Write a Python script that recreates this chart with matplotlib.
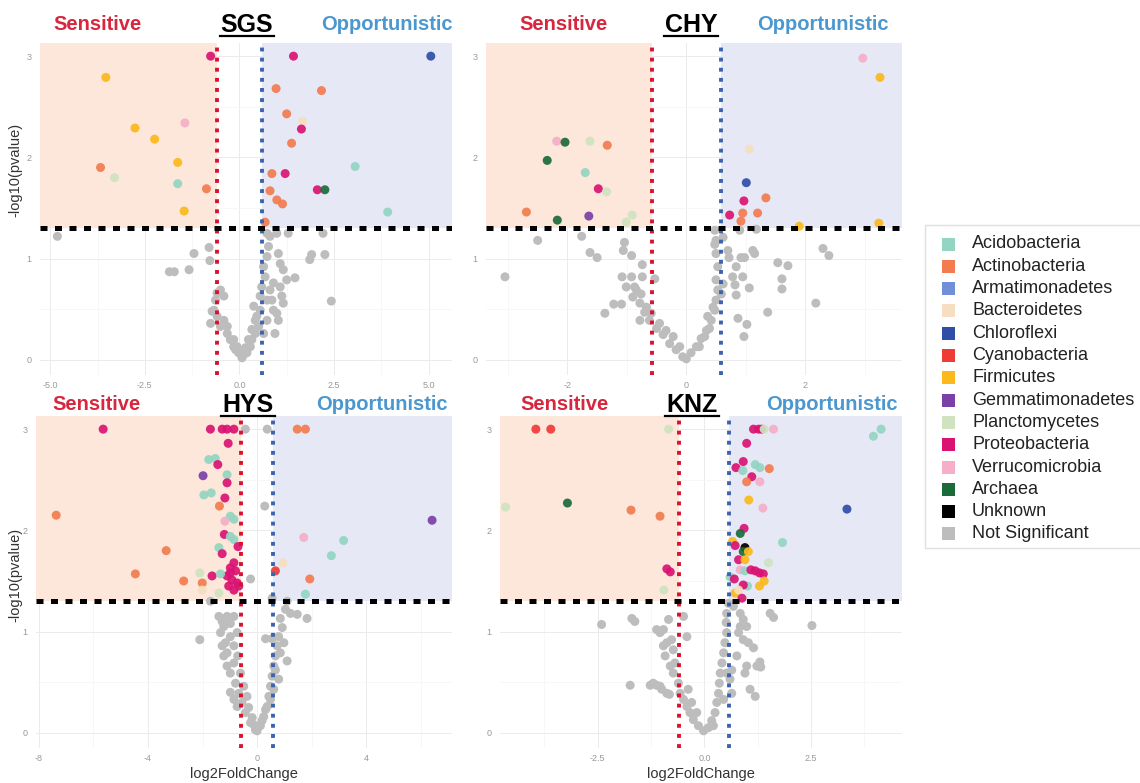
import matplotlib
matplotlib.use("Agg")
import matplotlib.pyplot as plt
from matplotlib.patches import Rectangle
from matplotlib.lines import Line2D

plt.rcParams['font.family'] = ['Liberation Sans', 'DejaVu Sans']

# ---------------- categories / colours ----------------
PHYLA = ["Acidobacteria", "Actinobacteria", "Armatimonadetes", "Bacteroidetes",
         "Chloroflexi", "Cyanobacteria", "Firmicutes", "Gemmatimonadetes",
         "Planctomycetes", "Proteobacteria", "Verrucomicrobia", "Archaea",
         "Unknown", "Not Significant"]
PHYLA_COLORS = ["#93d5c2", "#f27c4f", "#6f8fd6", "#f5dfc0", "#2f4ea8", "#ef3b36",
                "#fbb91b", "#7b3fa8", "#cfe3c0", "#da1373", "#f5afc8", "#1b6b3a",
                "#000000", "#bdbdbd"]
COLOR = dict(zip(PHYLA, PHYLA_COLORS))

FC_CUT = 0.585      # log2(1.5)
P_CUT = 1.301       # -log10(0.05)

# ---------------- SGS ----------------
SGS_phylum = ["Proteobacteria", "Firmicutes", "Verrucomicrobia", "Firmicutes", "Firmicutes",
              "Firmicutes", "Actinobacteria", "Planctomycetes", "Acidobacteria", "Actinobacteria",
              "Firmicutes", "Proteobacteria", "Chloroflexi", "Actinobacteria", "Actinobacteria",
              "Actinobacteria", "Bacteroidetes", "Proteobacteria", "Actinobacteria", "Acidobacteria",
              "Actinobacteria", "Proteobacteria", "Actinobacteria", "Proteobacteria", "Archaea",
              "Actinobacteria", "Actinobacteria", "Acidobacteria", "Actinobacteria"]
SGS_lfc = [-0.76, -3.53, -1.44, -2.76, -2.24, -1.63, -3.67, -3.30, -1.63, -0.87,
           -1.46, 1.43, 5.06, 0.97, 2.17, 1.25, 1.67, 1.64, 1.38, 3.06,
           0.86, 1.21, 0.81, 2.06, 2.26, 0.99, 1.14, 3.92, 0.68]
SGS_p = [3.00, 2.79, 2.34, 2.29, 2.18, 1.95, 1.90, 1.80, 1.74, 1.69,
         1.47, 3.00, 3.00, 2.68, 2.66, 2.43, 2.36, 2.28, 2.14, 1.91,
         1.84, 1.84, 1.67, 1.68, 1.68, 1.58, 1.54, 1.46, 1.36]
SGS_ns_lfc = [-4.81, -0.80, -1.20, -0.78, -1.85, -1.72, -1.33, -0.50, -0.41, -0.67, -0.59, -0.76,
              -0.50, -0.32, -0.24, -0.15, -0.02, 0.07, 0.20, 0.29, 0.33, 0.42, 0.51, 0.46, 0.38,
              0.55, 0.59, 0.68, 0.64, 0.73, 0.77, 0.81, 0.99, 1.03, 1.08, 1.16, 1.25, 1.08, 1.12,
              1.16, 0.99, 1.03, 0.94, 1.47, 1.86, 1.91, 1.29, 2.21, 2.26, 2.43, -0.10, 0.11, -0.15,
              -0.06, 0.16, 0.24, 0.33, 0.42, 0.55, 0.73, 0.81, 0.90, 0.86, 0.90, 0.73, 0.64, -0.41,
              -0.63, -0.59, -0.72, -0.32, 0.73]
SGS_ns_p = [1.22, 1.11, 1.05, 0.98, 0.87, 0.87, 0.89, 0.69, 0.63, 0.49, 0.43, 0.36,
            0.33, 0.26, 0.20, 0.13, 0.07, 0.02, 0.07, 0.13, 0.20, 0.26, 0.33, 0.43, 0.53,
            0.63, 0.72, 0.82, 0.92, 1.02, 1.12, 1.22, 1.25, 1.05, 0.95, 0.89, 0.79, 0.72, 0.63,
            0.56, 0.46, 0.39, 0.26, 0.81, 0.99, 1.04, 1.25, 1.25, 1.04, 0.58, 0.10, 0.05, 0.20,
            0.13, 0.12, 0.20, 0.30, 0.39, 0.49, 0.59, 0.69, 0.76, 0.59, 0.49, 0.39, 0.26, 0.39,
            0.59, 0.66, 0.48, 0.33, 1.25]

# ---------------- CHY ----------------
CHY_phylum = ["Verrucomicrobia", "Firmicutes", "Verrucomicrobia", "Archaea", "Planctomycetes",
              "Actinobacteria", "Archaea", "Acidobacteria", "Proteobacteria", "Planctomycetes",
              "Actinobacteria", "Archaea", "Gemmatimonadetes", "Planctomycetes", "Planctomycetes",
              "Bacteroidetes", "Chloroflexi", "Proteobacteria", "Actinobacteria", "Proteobacteria",
              "Actinobacteria", "Actinobacteria", "Actinobacteria", "Firmicutes", "Firmicutes"]
CHY_lfc = [2.97, 3.26, -2.18, -2.04, -1.62, -1.33, -2.34, -1.70, -1.48, -1.34,
           -2.69, -2.17, -1.64, -0.91, -1.01, 1.06, 1.01, 0.97, 1.34, 0.73,
           0.95, 1.20, 0.92, 1.90, 3.24]
CHY_p = [2.98, 2.79, 2.16, 2.15, 2.16, 2.12, 1.97, 1.85, 1.69, 1.66,
         1.46, 1.38, 1.42, 1.43, 1.36, 2.08, 1.75, 1.57, 1.60, 1.43,
         1.45, 1.45, 1.37, 1.32, 1.35]
CHY_ns_lfc = [-3.05, -2.50, -1.76, -1.62, -1.50, -1.06, -1.04, -0.92, -0.74, -1.37, -1.22, -1.09,
              -0.78, -1.08, -0.92, -1.01, -0.87, -0.74, -0.53, -0.90, -0.78, -0.70, -0.62, -0.50,
              -0.39, -0.28, -0.17, -0.06, 0.00, 0.08, 0.17, 0.25, 0.34, 0.42, 0.48, 0.50, 0.53,
              0.50, 0.53, 0.50, 0.48, -0.67, -0.59, -0.45, -0.34, -0.22, -0.11, -0.76, -0.84, 0.22,
              0.31, 0.39, 0.36, 0.45, 0.59, 0.62, 0.70, 0.72, 0.78, 0.84, 0.92, 0.98, 1.12, 1.15,
              0.95, 1.06, 0.82, 0.84, 0.87, 1.02, 0.97, 1.37, 1.54, 1.71, 1.61, 1.61, 2.18, 2.30,
              2.40, 0.90, 1.18, 0.48, 0.50, 0.62]
CHY_ns_p = [0.82, 1.18, 1.22, 1.06, 1.01, 1.08, 1.16, 1.03, 0.94, 0.46, 0.55, 0.55,
            0.39, 0.82, 0.82, 0.72, 0.72, 0.82, 0.80, 0.62, 0.56, 0.47, 0.39, 0.31,
            0.25, 0.16, 0.10, 0.03, 0.01, 0.07, 0.13, 0.21, 0.29, 0.39, 0.49, 0.59, 0.69,
            0.79, 0.92, 1.05, 1.14, 0.52, 0.46, 0.36, 0.29, 0.23, 0.13, 0.65, 0.69, 0.13,
            0.23, 0.31, 0.43, 0.52, 0.65, 0.75, 1.08, 1.01, 0.82, 0.92, 1.01, 1.01, 1.08, 1.05,
            0.82, 0.71, 0.74, 0.64, 0.41, 0.35, 0.23, 0.47, 0.96, 0.93, 0.80, 0.70, 0.56, 1.10,
            1.03, 1.28, 1.29, 1.28, 1.18, 1.21]

# ---------------- HYS ----------------
HYS_phylum = ["Proteobacteria", "Proteobacteria", "Proteobacteria", "Proteobacteria", "Proteobacteria",
              "Actinobacteria", "Actinobacteria", "Proteobacteria", "Acidobacteria", "Acidobacteria",
              "Proteobacteria", "Gemmatimonadetes", "Acidobacteria", "Proteobacteria", "Acidobacteria",
              "Acidobacteria", "Proteobacteria", "Actinobacteria", "Actinobacteria", "Gemmatimonadetes",
              "Acidobacteria", "Acidobacteria", "Verrucomicrobia", "Proteobacteria", "Acidobacteria",
              "Acidobacteria", "Acidobacteria", "Verrucomicrobia", "Acidobacteria", "Actinobacteria",
              "Proteobacteria", "Proteobacteria", "Acidobacteria", "Proteobacteria", "Proteobacteria",
              "Proteobacteria", "Proteobacteria", "Proteobacteria", "Proteobacteria", "Proteobacteria",
              "Proteobacteria", "Proteobacteria", "Proteobacteria", "Bacteroidetes", "Cyanobacteria",
              "Proteobacteria", "Planctomycetes", "Acidobacteria", "Actinobacteria", "Actinobacteria",
              "Actinobacteria", "Bacteroidetes", "Actinobacteria", "Acidobacteria", "Planctomycetes"]
HYS_lfc = [-5.64, -1.71, -1.28, -1.10, -0.85, 1.47, 1.77, -1.06, -1.77, -1.53,
           -1.44, -1.98, -1.10, -1.10, -1.95, -1.68, -1.18, -1.38, -7.36, 6.41,
           -0.98, -0.85, -1.18, -1.20, -0.98, -0.85, -1.40, 1.71, 3.17, -3.33,
           -0.70, -1.28, 2.72, -0.85, -0.98, -0.79, -1.10, -0.92, -0.73, -1.04,
           -0.85, -0.67, -0.98, 0.95, 0.67, -1.65, -2.10, -1.34, -4.46, -2.69,
           -2.01, -2.01, 1.93, 1.77, -1.40]
HYS_p = [3.00, 3.00, 3.00, 3.00, 3.00, 3.00, 3.00, 2.86, 2.70, 2.71,
         2.65, 2.54, 2.55, 2.47, 2.35, 2.37, 2.32, 2.24, 2.15, 2.10,
         2.14, 2.11, 2.09, 1.96, 1.94, 1.91, 1.83, 1.93, 1.90, 1.80,
         1.84, 1.77, 1.75, 1.68, 1.63, 1.60, 1.55, 1.51, 1.48, 1.45,
         1.41, 1.45, 1.58, 1.68, 1.60, 1.55, 1.58, 1.57, 1.57, 1.50,
         1.48, 1.41, 1.52, 1.37, 1.38]
HYS_ns_lfc = [-0.43, 0.37, 0.28, -0.24, -2.10, -1.71, -1.40, -1.10, -0.85, -1.22, -0.98, -1.28,
              -1.10, -0.85, -0.98, -0.79, -0.67, -0.55, -0.43, -0.24, -0.06, 0.12, 0.24, 0.37,
              0.43, 0.49, 0.55, 0.61, 0.67, 0.73, 0.79, 0.92, 1.10, 0.85, 1.04, 1.22, 1.47, 1.83,
              1.10, 0.31, 0.55, 0.55, -1.34, -1.16, -0.85, -0.73, -0.71, -0.61, -0.49, -0.37,
              -0.31, -0.18, -0.12, 0.00, 0.18, 0.31, 0.67, 0.79, 0.85, 0.98, 0.49, 0.61, -1.22,
              -1.10, -0.98, -0.85, -0.73, -1.28, -0.98]
HYS_ns_p = [3.00, 3.00, 2.24, 1.52, 0.92, 1.30, 1.15, 1.15, 1.15, 1.05, 0.95, 0.86,
            0.79, 0.69, 0.59, 0.49, 0.39, 0.30, 0.20, 0.10, 0.03, 0.07, 0.16, 0.26,
            0.36, 0.46, 0.56, 0.66, 0.76, 0.86, 0.95, 1.04, 0.71, 1.13, 1.22, 1.18, 1.17, 1.13,
            1.30, 0.93, 0.93, 1.33, 0.99, 0.89, 0.86, 0.99, 0.76, 0.59, 0.46, 0.36,
            0.25, 0.15, 0.08, 0.02, 0.12, 0.23, 0.62, 0.53, 0.79, 0.89, 0.33, 0.43, 0.76,
            0.66, 0.40, 0.33, 0.26, 1.10, 1.08]

# ---------------- KNZ ----------------
KNZ_phylum = ["Cyanobacteria", "Cyanobacteria", "Planctomycetes", "Planctomycetes", "Archaea",
              "Actinobacteria", "Actinobacteria", "Proteobacteria", "Proteobacteria", "Planctomycetes",
              "Proteobacteria", "Proteobacteria", "Proteobacteria", "Planctomycetes", "Verrucomicrobia",
              "Acidobacteria", "Acidobacteria", "Proteobacteria", "Proteobacteria", "Proteobacteria",
              "Acidobacteria", "Acidobacteria", "Acidobacteria", "Actinobacteria", "Proteobacteria",
              "Actinobacteria", "Verrucomicrobia", "Firmicutes", "Verrucomicrobia", "Chloroflexi",
              "Proteobacteria", "Archaea", "Acidobacteria", "Firmicutes", "Proteobacteria",
              "Unknown", "Archaea", "Firmicutes", "Proteobacteria", "Firmicutes",
              "Planctomycetes", "Verrucomicrobia", "Acidobacteria", "Proteobacteria", "Proteobacteria",
              "Proteobacteria", "Proteobacteria", "Acidobacteria", "Proteobacteria", "Firmicutes",
              "Firmicutes", "Acidobacteria", "Proteobacteria", "Firmicutes", "Bacteroidetes",
              "Proteobacteria"]
KNZ_lfc = [-3.95, -3.60, -0.84, -4.66, -3.21, -1.72, -1.04, -0.88, -0.80, -0.95,
           1.15, 1.27, 1.34, 1.40, 1.62, 3.96, 4.14, 0.99, 0.91, 0.74,
           0.90, 1.19, 1.30, 1.52, 1.11, 0.99, 1.30, 1.04, 1.37, 3.34,
           0.93, 0.84, 1.83, 0.66, 0.72, 0.95, 0.91, 1.03, 0.80, 0.95,
           1.50, 0.84, 0.95, 1.09, 1.19, 1.29, 1.38, 0.60, 0.70, 1.29,
           1.40, 1.01, 0.91, 0.72, 0.80, 0.88]
KNZ_p = [3.00, 3.00, 3.00, 2.23, 2.27, 2.20, 2.14, 1.62, 1.59, 1.41,
         3.00, 3.00, 3.00, 3.00, 3.00, 2.93, 3.00, 2.86, 2.68, 2.62,
         2.59, 2.65, 2.62, 2.61, 2.53, 2.48, 2.48, 2.30, 2.22, 2.21,
         2.02, 1.97, 1.88, 1.89, 1.85, 1.83, 1.79, 1.79, 1.71, 1.71,
         1.68, 1.61, 1.60, 1.61, 1.60, 1.58, 1.57, 1.54, 1.52, 1.45,
         1.50, 1.45, 1.46, 1.38, 1.41, 1.33]
KNZ_ns_lfc = [-2.41, -1.70, -1.63, -1.74, -1.27, -1.12, -1.00, -0.82, 2.52, 1.54, 1.62, 1.30,
              1.32, 1.07, 1.19, 0.95, 1.15, 1.03, 0.91, -0.96, -0.84, -0.77, -0.73, -0.88, -0.69,
              -0.73, -0.61, -0.57, -0.49, -0.41, -0.34, -0.26, -0.14, -0.02, 0.09, 0.17, 0.25,
              0.29, 0.33, 0.35, 0.37, 0.41, 0.45, 0.48, 0.52, 0.51, 0.52, 0.56, 0.68, 0.84, 0.91,
              0.99, 0.80, 0.76, 0.64, 0.60, 0.64, -1.04, -0.96, -0.92, -0.80, -0.38, -0.30, -0.18,
              0.21, 0.45, 0.52, -0.49, -0.41, -1.12, -1.20, -1.04, -0.88, 0.99, 1.23, 0.84]
KNZ_ns_p = [1.07, 1.13, 1.10, 0.47, 0.47, 0.47, 0.43, 0.38, 1.06, 1.18, 1.14, 0.70,
            0.65, 0.43, 0.36, 0.59, 0.84, 0.89, 0.92, 1.02, 1.12, 0.92, 0.82, 0.89, 0.69,
            0.59, 0.49, 0.39, 0.33, 0.26, 0.20, 0.13, 0.07, 0.02, 0.05, 0.12, 0.20,
            0.30, 0.39, 0.49, 0.59, 0.69, 0.79, 0.89, 0.99, 1.09, 1.18, 1.28, 1.25, 1.18, 1.12,
            1.05, 0.99, 0.76, 0.62, 0.53, 0.39, 0.99, 0.86, 0.76, 0.66, 0.43, 0.30, 0.20,
            0.07, 0.33, 0.59, 1.15, 0.95, 1.02, 0.49, 0.46, 0.39, 0.66, 0.66, 1.05]

# ---------------- layout (pixel boxes: left, top, right, bottom) ----------------
W, H = 1140, 783
fig = plt.figure(figsize=(W / 100, H / 100), dpi=100)

panels = [
    dict(name="SGS", box=(40, 43, 452, 375), xlim=(-5.27, 5.62),
         xticks=[-5, -2.5, 0, 2.5, 5], xlabels=["-5.0", "-2.5", "0.0", "2.5", "5.0"],
         phylum=SGS_phylum, lfc=SGS_lfc, p=SGS_p, ns_lfc=SGS_ns_lfc, ns_p=SGS_ns_p,
         xlab=False),
    dict(name="CHY", box=(486, 43, 902, 375), xlim=(-3.37, 3.63),
         xticks=[-2, 0, 2], xlabels=["-2", "0", "2"],
         phylum=CHY_phylum, lfc=CHY_lfc, p=CHY_p, ns_lfc=CHY_ns_lfc, ns_p=CHY_ns_p,
         xlab=False),
    dict(name="HYS", box=(36, 416, 452, 748), xlim=(-8.1, 7.14),
         xticks=[-8, -4, 0, 4], xlabels=["-8", "-4", "0", "4"],
         phylum=HYS_phylum, lfc=HYS_lfc, p=HYS_p, ns_lfc=HYS_ns_lfc, ns_p=HYS_ns_p,
         xlab=True),
    dict(name="KNZ", box=(500, 416, 902, 748), xlim=(-4.79, 4.63),
         xticks=[-2.5, 0, 2.5], xlabels=["-2.5", "0.0", "2.5"],
         phylum=KNZ_phylum, lfc=KNZ_lfc, p=KNZ_p, ns_lfc=KNZ_ns_lfc, ns_p=KNZ_ns_p,
         xlab=True),
]

YLIM = (-0.15, 3.13)
SENS_COL = "#d7263d"
OPP_COL = "#4b97cf"

for pnl in panels:
    l, t, r, b = pnl["box"]
    ax = fig.add_axes([l / W, 1 - b / H, (r - l) / W, (b - t) / H])
    for s in ax.spines.values():
        s.set_visible(False)
    x0, x1 = pnl["xlim"]
    # grid / ticks
    xt = pnl["xticks"]
    step = xt[1] - xt[0]
    minor_x = [v + step / 2 for v in [xt[0] - step] + xt if x0 < v + step / 2 < x1]
    ax.set_xticks(xt)
    ax.set_xticklabels(pnl["xlabels"])
    ax.set_xticks(minor_x, minor=True)
    ax.set_yticks([0, 1, 2, 3])
    ax.set_yticks([0.5, 1.5, 2.5], minor=True)
    ax.grid(True, which="major", color="#ebebeb", lw=0.7)
    ax.grid(True, which="minor", color="#f4f4f4", lw=0.5)
    ax.set_axisbelow(True)
    ax.tick_params(which="both", length=0, labelsize=6.5, labelcolor="#999999")
    ax.tick_params(axis="x", pad=4)
    ax.tick_params(axis="y", pad=6)
    # shaded regions
    ax.add_patch(Rectangle((x0, P_CUT), -FC_CUT - x0, YLIM[1] - P_CUT,
                           facecolor="#fde6da", edgecolor="none", zorder=0.8))
    ax.add_patch(Rectangle((FC_CUT, P_CUT), x1 - FC_CUT, YLIM[1] - P_CUT,
                           facecolor="#e6e8f6", edgecolor="none", zorder=0.8))
    # points
    ax.scatter(pnl["ns_lfc"], pnl["ns_p"], s=42, color=COLOR["Not Significant"],
               edgecolors="none", zorder=2)
    ax.scatter(pnl["lfc"], pnl["p"], s=42, c=[COLOR[ph] for ph in pnl["phylum"]],
               edgecolors="none", alpha=0.92, zorder=3)
    # threshold lines
    ax.axvline(-FC_CUT, color="#d8122f", lw=2.8, dashes=(1.0, 1.6), zorder=4)
    ax.axvline(FC_CUT, color="#3c64ad", lw=2.8, dashes=(1.0, 1.6), zorder=4)
    ax.axhline(P_CUT, color="#000000", lw=3.6, dashes=(1.4, 1.5), zorder=5)
    if pnl["xlab"]:
        ax.set_xlabel("log2FoldChange", fontsize=10.5, color="#333333", labelpad=3)
    ax.set_xlim(x0, x1)
    ax.set_ylim(*YLIM)
    ax.set_autoscale_on(False)

# titles
title_rows = [
    # (sens_x, site_x, opp_x, baseline_y, site)
    (98, 247, 387, 30, "SGS"),
    (564, 691, 823, 30, "CHY"),
    (97, 248, 382, 410, "HYS"),
    (565, 692, 832, 410, "KNZ"),
]
for sx, cx, ox, by, site in title_rows:
    fig.text(sx / W, 1 - by / H, "Sensitive", ha="center", va="baseline",
             fontsize=14.5, fontweight="bold", color=SENS_COL)
    fig.text(ox / W, 1 - by / H, "Opportunistic", ha="center", va="baseline",
             fontsize=14.5, fontweight="bold", color=OPP_COL)
    fig.text(cx / W, 1 - (by + 2) / H, site, ha="center", va="baseline",
             fontsize=18, fontweight="bold", color="#000000")
    fig.add_artist(Line2D([(cx - 27) / W, (cx + 27) / W],
                          [1 - (by + 6) / H, 1 - (by + 6) / H],
                          color="#000000", lw=1.6))

# y labels
for cy in (170, 575):
    fig.text(15 / W, 1 - cy / H, "-log10(pvalue)", rotation=90, ha="center", va="center",
             fontsize=10.5, color="#333333")

# legend (manual)
fig.add_artist(Rectangle((925 / W, 1 - 548 / H), 230 / W, 323 / H, transform=fig.transFigure,
                         facecolor="white", edgecolor="#e0e0e0", lw=1.0))
for i, (name, colr) in enumerate(zip(PHYLA, PHYLA_COLORS)):
    yc = 244 + i * 22.3
    fig.add_artist(Rectangle((942 / W, 1 - (yc + 6.5) / H), 13 / W, 13 / H,
                             transform=fig.transFigure, facecolor=colr, edgecolor="none"))
    fig.text(972 / W, 1 - yc / H, name, ha="left", va="center", fontsize=13, color="#222222")

fig.savefig("out.png", dpi=100)
